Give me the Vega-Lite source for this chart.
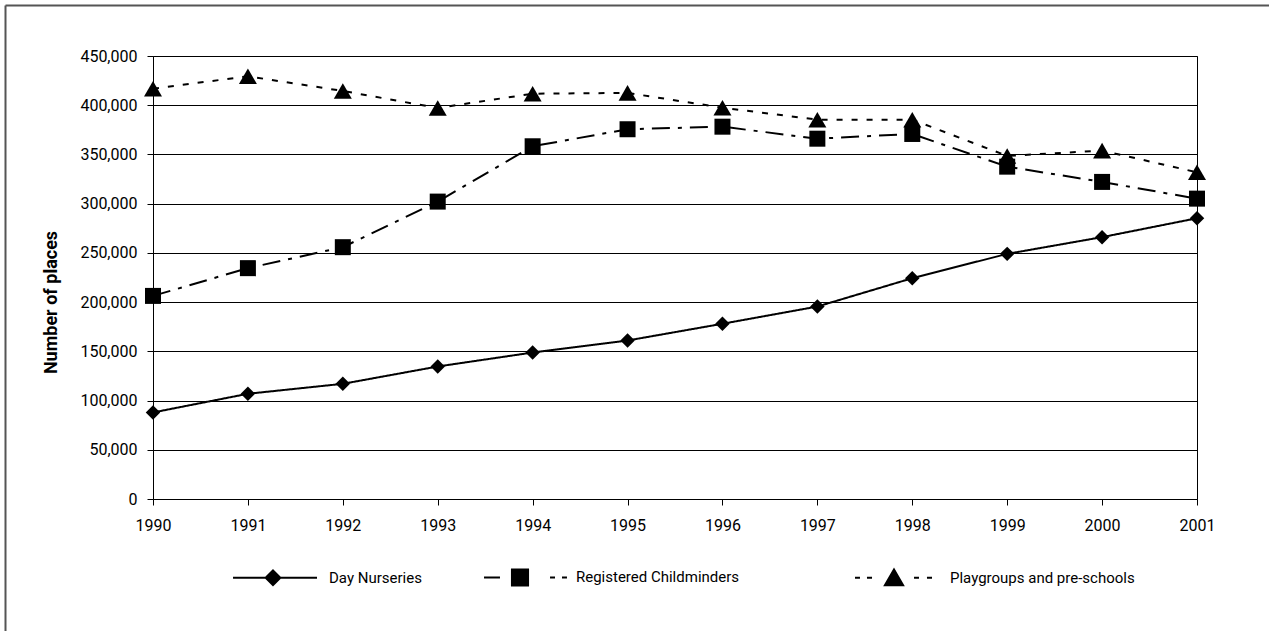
{
  "$schema": "https://vega.github.io/schema/vega-lite/v6.json",
  "width": 1044,
  "height": 443,
  "autosize": {"type": "none"},
  "padding": {"left": 153, "top": 56, "right": 72, "bottom": 132},
  "background": "white",
  "config": {
    "font": "Roboto",
    "view": {"stroke": "black", "strokeWidth": 1},
    "axis": {
      "labelFont": "Roboto",
      "labelFontSize": 16,
      "labelColor": "black",
      "tickColor": "black",
      "tickSize": 6,
      "domainColor": "black",
      "gridColor": "black",
      "gridOpacity": 1,
      "gridWidth": 1
    }
  },
  "data": {
    "values": [
      {"year": 1990, "series": "Day Nurseries", "value": 87900},
      {"year": 1991, "series": "Day Nurseries", "value": 106900},
      {"year": 1992, "series": "Day Nurseries", "value": 117000},
      {"year": 1993, "series": "Day Nurseries", "value": 134600},
      {"year": 1994, "series": "Day Nurseries", "value": 148800},
      {"year": 1995, "series": "Day Nurseries", "value": 161000},
      {"year": 1996, "series": "Day Nurseries", "value": 178000},
      {"year": 1997, "series": "Day Nurseries", "value": 195500},
      {"year": 1998, "series": "Day Nurseries", "value": 224300},
      {"year": 1999, "series": "Day Nurseries", "value": 249000},
      {"year": 2000, "series": "Day Nurseries", "value": 266000},
      {"year": 2001, "series": "Day Nurseries", "value": 285200},
      {"year": 1990, "series": "Registered Childminders", "value": 206300},
      {"year": 1991, "series": "Registered Childminders", "value": 234500},
      {"year": 1992, "series": "Registered Childminders", "value": 255800},
      {"year": 1993, "series": "Registered Childminders", "value": 302100},
      {"year": 1994, "series": "Registered Childminders", "value": 358300},
      {"year": 1995, "series": "Registered Childminders", "value": 375600},
      {"year": 1996, "series": "Registered Childminders", "value": 378200},
      {"year": 1997, "series": "Registered Childminders", "value": 366000},
      {"year": 1998, "series": "Registered Childminders", "value": 370800},
      {"year": 1999, "series": "Registered Childminders", "value": 337600},
      {"year": 2000, "series": "Registered Childminders", "value": 322100},
      {"year": 2001, "series": "Registered Childminders", "value": 305100},
      {"year": 1990, "series": "Playgroups and pre-schools", "value": 416800},
      {"year": 1991, "series": "Playgroups and pre-schools", "value": 429400},
      {"year": 1992, "series": "Playgroups and pre-schools", "value": 414500},
      {"year": 1993, "series": "Playgroups and pre-schools", "value": 397200},
      {"year": 1994, "series": "Playgroups and pre-schools", "value": 411700},
      {"year": 1995, "series": "Playgroups and pre-schools", "value": 412500},
      {"year": 1996, "series": "Playgroups and pre-schools", "value": 397500},
      {"year": 1997, "series": "Playgroups and pre-schools", "value": 385300},
      {"year": 1998, "series": "Playgroups and pre-schools", "value": 385300},
      {"year": 1999, "series": "Playgroups and pre-schools", "value": 348500},
      {"year": 2000, "series": "Playgroups and pre-schools", "value": 353900},
      {"year": 2001, "series": "Playgroups and pre-schools", "value": 331900}
    ]
  },
  "resolve": {"axis": {"x": "independent", "y": "independent"}},
  "layer": [
    {
      "mark": {"type": "line", "color": "black", "strokeWidth": 2},
      "encoding": {
        "x": {
          "field": "year", "type": "ordinal",
          "scale": {"type": "point", "padding": 0},
          "axis": {"title": null, "labelAngle": 0, "labelPadding": 12, "grid": false, "domain": false, "orient": "bottom"}
        },
        "y": {
          "field": "value", "type": "quantitative",
          "scale": {"domain": [0, 450000]},
          "axis": {
            "orient": "left",
            "title": "Number of places",
            "values": [0, 50000, 100000, 150000, 200000, 250000, 300000, 350000, 400000, 450000],
            "format": ",.0f",
            "grid": true,
            "domain": false,
            "labelPadding": 10,
            "titleFont": "Roboto",
            "titleFontSize": 18,
            "titleFontWeight": "bold",
            "titleColor": "black",
            "titleAngle": -90,
            "titleX": -97,
            "titleY": 246,
            "titleAlign": "center",
            "titleBaseline": "alphabetic"
          }
        },
        "strokeDash": {
          "field": "series", "type": "nominal",
          "scale": {
            "domain": ["Playgroups and pre-schools", "Registered Childminders", "Day Nurseries"],
            "range": [[6, 9], [18, 8, 4, 8], [1, 0]]
          },
          "legend": null
        }
      }
    },
    {
      "transform": [{"filter": "datum.series == 'Day Nurseries'"}],
      "mark": {"type": "point", "filled": true, "color": "black", "opacity": 1, "shape": "diamond", "size": 210},
      "encoding": {
        "x": {
          "field": "year", "type": "ordinal",
          "axis": {
            "orient": "top", "offset": 51, "title": null, "labels": false, "grid": false, "domain": false,
            "values": [1990], "ticks": true, "tickOffset": -148, "tickSize": -700, "tickColor": "#555555", "tickWidth": 2
          }
        },
        "y": {
          "field": "value", "type": "quantitative",
          "axis": {
            "orient": "left", "offset": 148, "title": null, "labels": false, "grid": false, "domain": false,
            "values": [450000], "ticks": true, "tickOffset": -51, "tickSize": -1300, "tickColor": "#555555", "tickWidth": 2
          }
        }
      }
    },
    {
      "transform": [{"filter": "datum.series == 'Registered Childminders'"}],
      "mark": {"type": "point", "filled": true, "color": "black", "opacity": 1, "shape": "square", "size": 256},
      "encoding": {
        "x": {"field": "year", "type": "ordinal", "axis": null},
        "y": {"field": "value", "type": "quantitative", "axis": null}
      }
    },
    {
      "transform": [{"filter": "datum.series == 'Playgroups and pre-schools'"}],
      "mark": {"type": "point", "filled": true, "color": "black", "opacity": 1, "shape": "triangle-up", "size": 324},
      "encoding": {
        "x": {"field": "year", "type": "ordinal", "axis": null},
        "y": {"field": "value", "type": "quantitative", "axis": null}
      }
    },
    {
      "mark": {"type": "point", "filled": true, "color": "black", "strokeWidth": 2, "opacity": 0},
      "encoding": {
        "x": {"field": "year", "type": "ordinal", "axis": null},
        "y": {"field": "value", "type": "quantitative", "axis": null},
        "stroke": {
          "field": "series", "type": "nominal",
          "scale": {
            "domain": ["Day Nurseries", "Registered Childminders", "Playgroups and pre-schools"],
            "range": ["black", "black", "black"]
          },
          "legend": {
            "orient": "none", "legendX": 112, "legendY": 513, "direction": "horizontal", "title": null,
            "symbolSize": 196, "symbolStrokeWidth": 2, "symbolOpacity": 1,
            "labelFont": "Roboto", "labelFontSize": 15, "labelColor": "black", "labelLimit": 500,
            "labelOffset": 48, "columnPadding": 58
          }
        },
        "shape": {
          "field": "series", "type": "nominal",
          "scale": {
            "domain": ["Day Nurseries", "Registered Childminders", "Playgroups and pre-schools"],
            "range": [
              "M-5.71,0H6.29M0,-1.05L1.05,0L0,1.05L-1.05,0Z",
              "M-5.14,0H-2.86M-1.15,-1.15H1.15V1.15H-1.15ZM4.29,0H5M6,0H6.71M38.4,0",
              "M-5.57,0H-4.86M-3.86,0H-3.14M0,-1.2L1.3,1.05L-1.3,1.05ZM2.86,0H3.57M4.71,0H5.43"
            ]
          },
          "legend": {
            "orient": "none", "legendX": 112, "legendY": 513, "direction": "horizontal", "title": null,
            "symbolSize": 196, "symbolStrokeWidth": 2, "symbolOpacity": 1,
            "labelFont": "Roboto", "labelFontSize": 15, "labelColor": "black", "labelLimit": 500,
            "labelOffset": 48, "columnPadding": 58
          }
        }
      }
    }
  ]
}
